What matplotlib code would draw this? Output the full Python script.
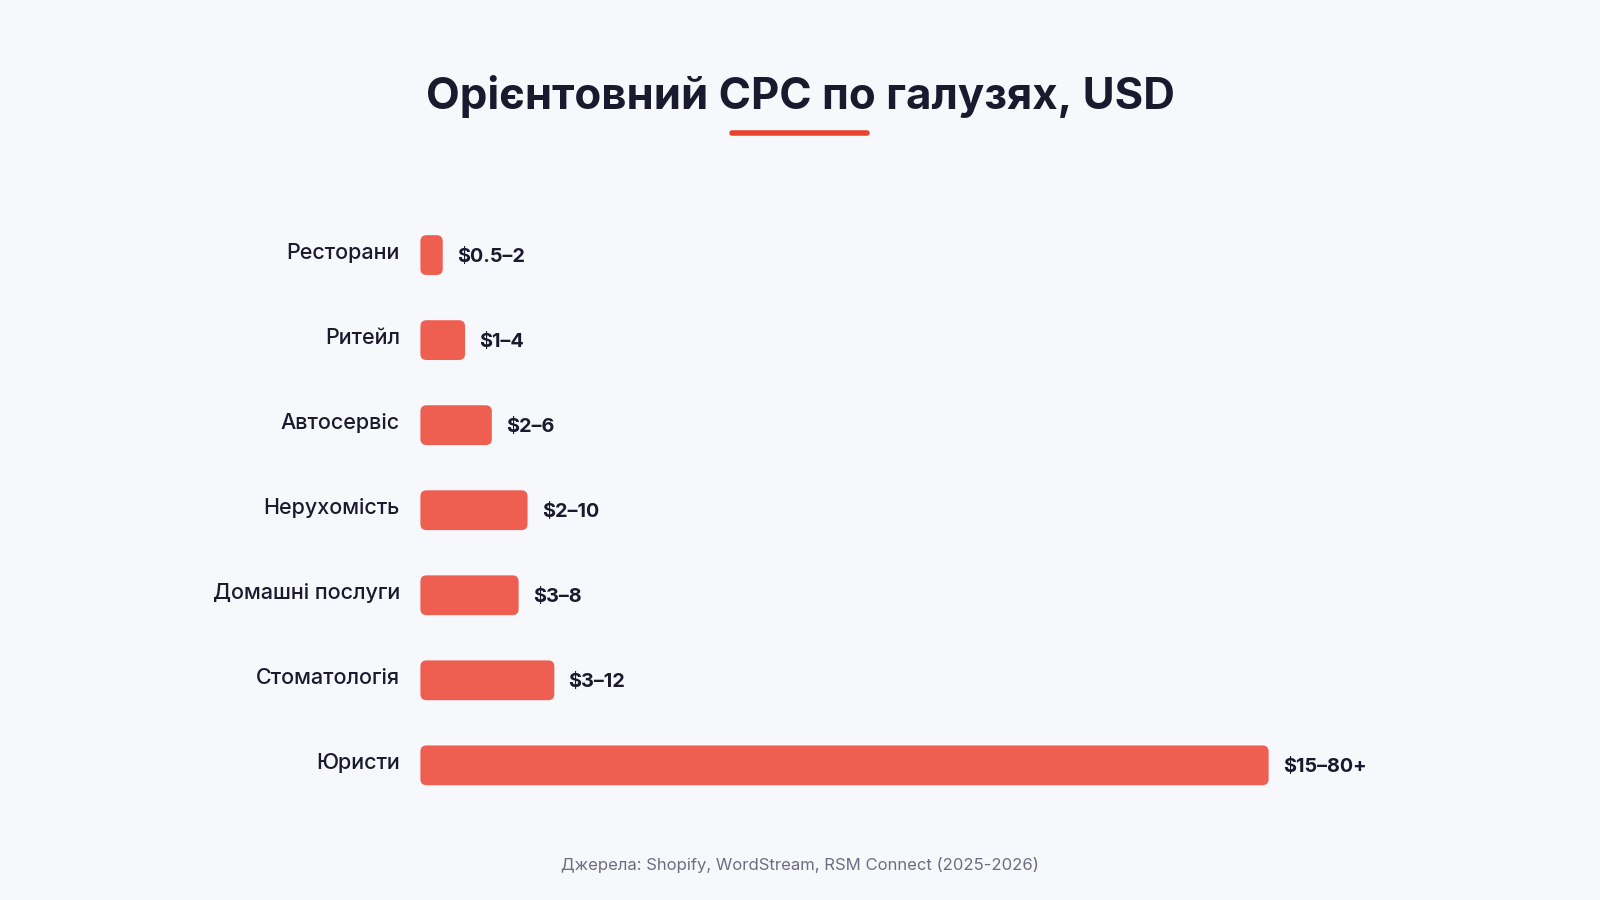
import matplotlib.pyplot as plt
from matplotlib.patches import FancyBboxPatch

industries = ['Ресторани', 'Ритейл', 'Автосервіс', 'Нерухомість',
              'Домашні послуги', 'Стоматологія', 'Юристи']
cpc_low = [0.5, 1, 2, 2, 3, 3, 15]
cpc_high = [2, 4, 6, 10, 8, 12, 80]
open_ended = [False, False, False, False, False, False, True]

bg = '#f7f8fc'
bar_color = '#ee5e51'
accent = '#e8432f'
ink = '#1a1a2e'
grey = '#6b6e80'

plt.rcParams['font.family'] = ['Inter', 'DejaVu Sans']

W, H = 1568, 882  # layout measured in reference pixels
fig = plt.figure(figsize=(16, 9), dpi=100, facecolor=bg)

# axes: x from 412 to 1287 px maps 0..50, rows spaced 83.3 px
ax = fig.add_axes([412 / W, 1 - 791.7 / H, 875 / W, 583.4 / H])
ax.set_facecolor(bg)
ax.set_xlim(0, 50)
ax.set_ylim(len(industries) - 0.5, -0.5)
ax.axis('off')

x_per_px = 50 / 875
y_per_px = 7 / 583.4
radius = 6 * x_per_px
bar_h = 39 * y_per_px

for i, name in enumerate(industries):
    mid = (cpc_low[i] + cpc_high[i]) / 2
    box = FancyBboxPatch((0, i - bar_h / 2), mid, bar_h,
                         boxstyle=f'round,pad=0,rounding_size={radius}',
                         mutation_aspect=y_per_px / x_per_px,
                         facecolor=bar_color, edgecolor='none')
    ax.add_patch(box)
    label = f'${cpc_low[i]:g}–{cpc_high[i]:g}' + ('+' if open_ended[i] else '')
    ax.text(mid + 14 * x_per_px, i + 1.5 * y_per_px, label, ha='left', va='center',
            fontsize=14.3, fontweight='bold', color=ink)
    ax.text(-20 * x_per_px, i - 2.5 * y_per_px, name, ha='right', va='center',
            fontsize=15.5, fontweight='medium', color=ink)

fig.text(0.5, 1 - 95 / H, 'Орієнтовний CPC по галузях, USD', ha='center', va='center',
         fontsize=31.5, fontweight='bold', color=ink)
fig.add_artist(plt.Line2D([717 / W, 850 / W], [1 - 130 / H, 1 - 130 / H],
                          color=accent, linewidth=4, solid_capstyle='round'))
fig.text(0.5, 1 - 848 / H, 'Джерела: Shopify, WordStream, RSM Connect (2025-2026)',
         ha='center', va='center', fontsize=12, color=grey)

fig.savefig('out.png', dpi=100, facecolor=bg)
